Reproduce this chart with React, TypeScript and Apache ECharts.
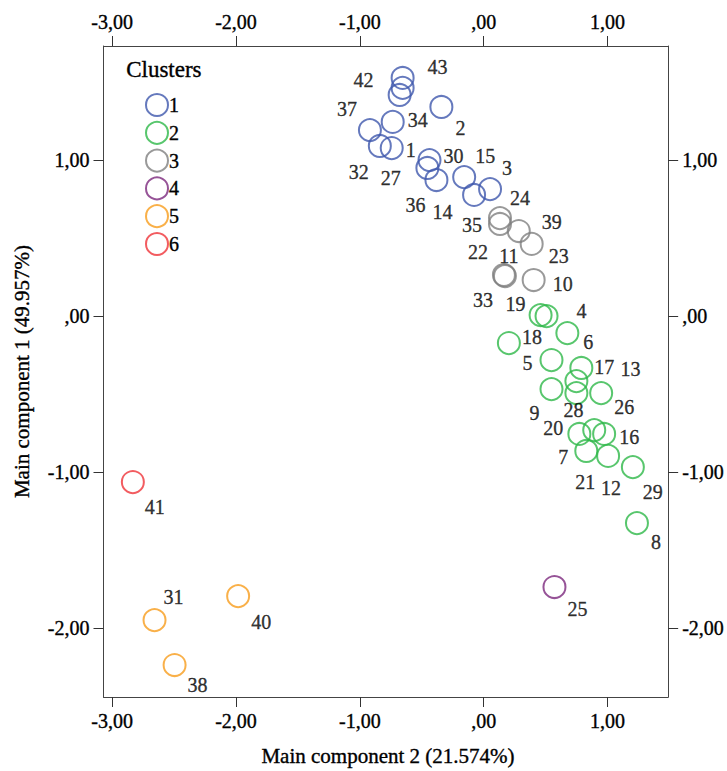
import { useEffect, useRef } from "react";
import * as echarts from "echarts";

const clusterNames = ["1", "2", "3", "4", "5", "6"];
const clusterColors = ["#3E58AC", "#2EB848", "#7F7F7F", "#7C287D", "#F89C1C", "#EF3338"];

// case numbers, main component 2 (x), main component 1 (y), cluster
const caseIds = [
  "43", "42", "34", "1", "37", "32", "27", "2", "30", "36", "14", "15", "3", "24",
  "35", "22", "39", "23", "11", "33", "10",
  "19", "4", "6", "18", "5", "17", "13", "9", "28", "26", "20", "21", "16", "7", "12", "29", "8",
  "25",
  "31", "40", "38",
  "41",
];
const comp2Values = [
  -0.655, -0.655, -0.679, -0.735, -0.919, -0.839, -0.743, -0.342, -0.438, -0.455, -0.382, -0.158, 0.051, -0.078,
  0.131, 0.131, 0.283, 0.387, 0.163, 0.171, 0.403,
  0.459, 0.507, 0.675, 0.203, 0.547, 0.788, 0.748, 0.547, 0.748, 0.948, 0.772, 0.892, 0.972, 0.828, 1.004, 1.204, 1.237,
  0.571,
  -2.658, -1.983, -2.496,
  -2.833,
];
const comp1Values = [
  1.526, 1.462, 1.417, 1.244, 1.192, 1.090, 1.077, 1.340, 1.000, 0.949, 0.872, 0.891, 0.814, 0.776,
  0.628, 0.590, 0.545, 0.462, 0.263, 0.256, 0.231,
  0.006, 0.000, -0.109, -0.173, -0.282, -0.333, -0.417, -0.468, -0.494, -0.494, -0.756, -0.731, -0.756, -0.865, -0.897, -0.968, -1.327,
  -1.737,
  -1.949, -1.795, -2.237,
  -1.064,
];
const caseCluster = [
  1, 1, 1, 1, 1, 1, 1, 1, 1, 1, 1, 1, 1, 1,
  3, 3, 3, 3, 3, 3, 3,
  2, 2, 2, 2, 2, 2, 2, 2, 2, 2, 2, 2, 2, 2, 2, 2, 2,
  4,
  5, 5, 5,
  6,
];

const xTicks = [-3, -2, -1, 0, 1];
const yTicks = [-2, -1, 0, 1];

// label placement (pixels, relative to the marker centre)
const labelOffsets: Record<string, [number, number]> = {
  "43": [35, -11], "42": [-39, -8], "34": [18, 25], "1": [18, 28], "37": [-23, -21],
  "32": [-21, 26], "27": [-1, 30], "2": [19, 21], "30": [24, -4], "36": [-12, 37],
  "14": [6, 32], "15": [21, -21], "3": [17, -21], "24": [46, 3],
  "35": [-28, 7], "22": [-22, 28], "39": [33, -9], "23": [27, 12], "11": [5, -19],
  "33": [-22, 24], "10": [29, 4],
  "19": [-25, -11], "4": [35, -5], "6": [21, 9], "18": [23, -6], "5": [-24, 3],
  "17": [23, -1], "13": [54, -12], "9": [-17, 24], "28": [-3, 17], "26": [23, 14],
  "20": [-26, -6], "21": [-9, 52], "16": [25, 3], "7": [-23, 6], "12": [3, 32],
  "29": [20, 25], "8": [19, 19],
  "25": [23, 22], "31": [19, -23], "40": [23, 26], "38": [23, 20], "41": [22, 25],
};

const W = 727;
const H = 771;
const FONT = "'Liberation Serif', 'Times New Roman', serif";
const TEXT = "#000";
const BOLDEN = { textBorderColor: "#000", textBorderWidth: 0.35 };

const gridLeft = 103.5;
const gridRight = 672.5;
const gridTop = 46;
const gridBottom = 697;
const xMin = -3.07;
const xMax = 1.489;
const yMin = -2.442;
const yMax = 1.731;

const fmt = (v: number) => (Math.abs(v) < 1e-9 ? ",00" : v.toFixed(2).replace(".", ","));

export default function App() {
  const ref = useRef<HTMLDivElement>(null);
  useEffect(() => {
    if (!ref.current) return;
    const chart = echarts.init(ref.current, undefined, { renderer: "svg" });

    const axisCommon = {
      type: "value" as const,
      axisLine: { show: true, onZero: false, lineStyle: { color: "#444", width: 1 } },
      axisTick: { show: true, length: 10, inside: false, lineStyle: { color: "#333", width: 1 } },
      splitLine: { show: false },
    };
    const labelStyle = { color: TEXT, fontSize: 20, fontFamily: FONT, margin: 14, formatter: fmt, ...BOLDEN };

    const xAxes = ["bottom", "top"].map((pos) => ({
      ...axisCommon,
      position: pos,
      min: xMin,
      max: xMax,
      axisTick: { ...axisCommon.axisTick, customValues: xTicks },
      axisLabel: { ...labelStyle, customValues: xTicks },
    }));
    const yAxes = ["left", "right"].map((pos) => ({
      ...axisCommon,
      position: pos,
      min: yMin,
      max: yMax,
      axisTick: { ...axisCommon.axisTick, customValues: yTicks },
      axisLabel: { ...labelStyle, customValues: yTicks },
    }));

    const series = clusterNames.map((name, ci) => ({
      type: "scatter",
      name,
      xAxisIndex: 0,
      yAxisIndex: 0,
      symbol: "circle",
      symbolSize: 22,
      itemStyle: { color: "transparent", borderColor: clusterColors[ci], borderWidth: 2 },
      label: {
        show: true,
        position: "inside",
        formatter: "{b}",
        color: TEXT,
        fontSize: 20,
        fontFamily: FONT,
        ...BOLDEN,
      },
      data: caseIds
        .map((id, i) => ({ id, i }))
        .filter(({ i }) => caseCluster[i] === ci + 1)
        .map(({ id, i }) => ({
          name: id,
          value: [comp2Values[i], comp1Values[i]],
          label: { offset: labelOffsets[id] || [15, 15] },
        })),
    }));

    chart.setOption({
      animation: false,
      backgroundColor: "#fff",
      grid: { left: gridLeft, right: W - gridRight, top: gridTop, bottom: H - gridBottom, containLabel: false },
      xAxis: xAxes,
      yAxis: yAxes,
      legend: {
        orient: "vertical",
        left: 140,
        top: 88,
        itemWidth: 22,
        itemHeight: 22,
        itemGap: 3.8,
        textStyle: { color: TEXT, fontSize: 20, fontFamily: FONT, padding: [0, 0, 0, -4], ...BOLDEN },
        data: clusterNames.map((n, i) => ({
          name: n,
          icon: "circle",
          itemStyle: { color: "transparent", borderColor: clusterColors[i], borderWidth: 2 },
        })),
      },
      graphic: [
        {
          type: "text",
          left: 126,
          top: 58,
          style: { text: "Clusters", fill: TEXT, fontSize: 23, fontFamily: FONT, stroke: "#000", lineWidth: 0.35 },
        },
        {
          type: "text",
          x: (gridLeft + gridRight) / 2,
          y: 756,
          style: {
            text: "Main component 2 (21.574%)",
            fill: TEXT,
            fontSize: 21,
            fontFamily: FONT,
            align: "center",
            verticalAlign: "middle",
            stroke: "#000",
            lineWidth: 0.35,
          },
        },
        {
          type: "text",
          x: 22,
          y: (gridTop + gridBottom) / 2,
          rotation: Math.PI / 2,
          style: {
            text: "Main component 1 (49.957%)",
            fill: TEXT,
            fontSize: 21,
            fontFamily: FONT,
            align: "center",
            verticalAlign: "middle",
            stroke: "#000",
            lineWidth: 0.35,
          },
        },
      ],
      series,
    });
    return () => chart.dispose();
  }, []);

  return (
    <div
      ref={ref}
      style={{ position: "fixed", left: 0, top: 0, width: W, height: H, background: "#fff" }}
    />
  );
}
